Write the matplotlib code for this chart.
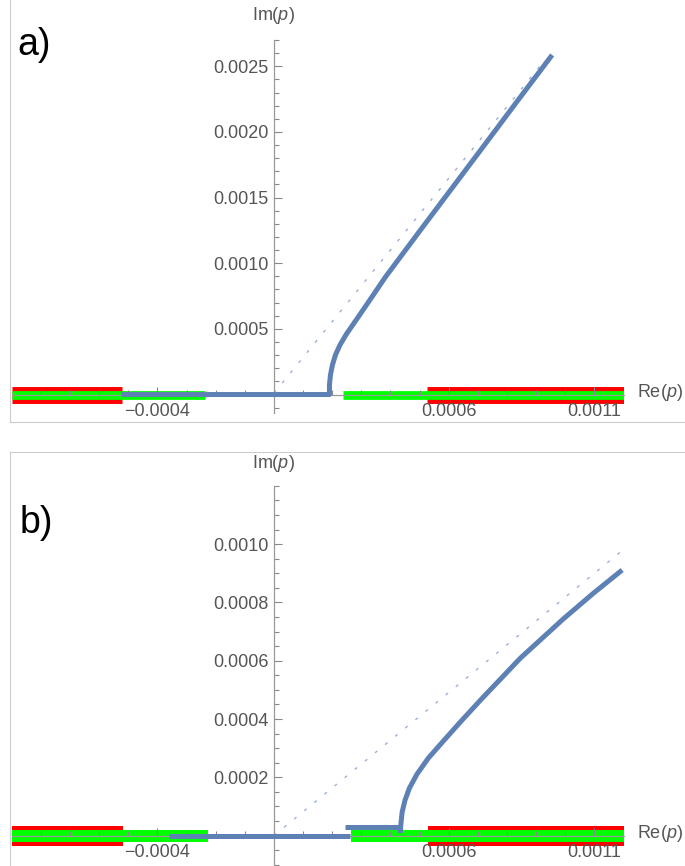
import numpy as np
import matplotlib.pyplot as plt
from matplotlib.lines import Line2D

plt.rcParams['font.family'] = ['Liberation Sans', 'DejaVu Sans']
plt.rcParams['mathtext.fontset'] = 'custom'
plt.rcParams['mathtext.it'] = 'Liberation Sans:italic'
plt.rcParams['mathtext.rm'] = 'Liberation Sans'

# datos
x_rango = (-0.0009, 0.0012)
x_ticks = [-0.0004, 0.0006, 0.0011]
x_ticklabels = ['\u22120.0004', '0.0006', '0.0011']

# panel a)
a_ylim = (-0.00014, 0.0027)
a_yticks = [0.0005, 0.0010, 0.0015, 0.0020, 0.0025]
a_rojo = [(-0.0009, -0.000523), (0.000526, 0.0012)]
a_verde = [(-0.0009, -0.000235), (0.000236, 0.0012)]
a_curva_x = [-0.000523, 0.0001905, 0.0001905, 0.0001939, 0.0002007, 0.000211, 0.0002265,
             0.0002488, 0.0002797, 0.0003174, 0.0003826, 0.0004986, 0.0006149,
             0.0007268, 0.0008425, 0.0009547]
a_curva_y = [0.0, 0.0, 0.0000724, 0.0001485, 0.0002247, 0.0003008, 0.000377,
             0.0004608, 0.0005598, 0.0006816, 0.0008949, 0.00124, 0.001583,
             0.001913, 0.002256, 0.002586]
a_punteada_x = [0.0, 0.00092]
a_punteada_y = [0.00001, 0.00252]

# panel b)
b_ylim = (-0.0001, 0.0012)
b_yticks = [0.0002, 0.0004, 0.0006, 0.0008, 0.0010]
b_rojo = [(-0.0009, -0.000517), (0.000527, 0.0012)]
b_verde = [(-0.0009, -0.000227), (0.000263, 0.0012)]
b_linea_x = [-0.000359, 0.00026]
b_linea_y = [0.0, 0.0]
b_tramo_x = [0.000243, 0.000434]
b_tramo_y = [0.000031, 0.000031]
b_curva_x = [0.000434, 0.000435, 0.00044, 0.00045, 0.000465, 0.000491, 0.00053, 0.000582,
             0.00064, 0.000709, 0.000846, 0.000995, 0.001097, 0.001195]
b_curva_y = [0.0000089, 0.0000329, 0.000081, 0.000122, 0.000163, 0.000211, 0.000266,
             0.000325, 0.00039, 0.000465, 0.000609, 0.000745, 0.000832, 0.000911]
b_punteada_x = [0.0, 0.0012]
b_punteada_y = [0.0, 0.000982]

AZUL = '#5E81B5'
GRIS = '#555555'
W, H = 685, 866


def rect(izq, der, arriba, abajo):
    return [izq / W, (H - abajo) / H, (der - izq) / W, (abajo - arriba) / H]


def preparar_ejes(ax, ylim, yticks, menor_y):
    ax.set_xlim(*x_rango)
    ax.set_ylim(*ylim)
    ax.patch.set_alpha(0)
    for lado in ['top', 'right']:
        ax.spines[lado].set_visible(False)
    for lado in ['left', 'bottom']:
        ax.spines[lado].set_position(('data', 0))
        ax.spines[lado].set_color('#999999')
        ax.spines[lado].set_linewidth(0.9)
        ax.spines[lado].set_zorder(2.5)
    ax.set_xticks(x_ticks)
    ax.set_xticklabels(x_ticklabels)
    ax.set_xticks(np.arange(-8, 12) * 0.0001, minor=True)
    ax.set_yticks(yticks)
    ax.set_yticklabels([f'{v:.4f}' for v in yticks])
    ax.set_yticks(np.arange(-2, 30) * menor_y, minor=True)
    ax.set_ylim(*ylim)
    ax.tick_params(which='both', direction='in', color='#888888', width=0.8,
                   labelcolor=GRIS, labelsize=13)
    ax.tick_params(which='major', length=6)
    ax.tick_params(which='minor', length=3.5)
    ax.tick_params(axis='x', pad=6)
    ax.tick_params(axis='y', pad=4)


def bandas(ax, rojo, verde, lw_rojo, lw_verde):
    for a, b in rojo:
        ax.plot([a, b], [0, 0], color='#FF0000', lw=lw_rojo, solid_capstyle='butt', zorder=1)
    for a, b in verde:
        ax.plot([a, b], [0, 0], color='#00FF00', lw=lw_verde, solid_capstyle='butt', zorder=1.1)


fig = plt.figure(figsize=(6.85, 8.66), dpi=100)

# panel a)
ax1 = fig.add_axes(rect(11.7, 623.6, 40.0, 412.9))
preparar_ejes(ax1, a_ylim, a_yticks, 0.0001)
bandas(ax1, a_rojo, a_verde, 12.2, 6.3)
ax1.plot(a_punteada_x, a_punteada_y, color='#9AB0D6', lw=1.0, dashes=(2.2, 7.2), zorder=2)
ax1.plot(a_curva_x, a_curva_y, color=AZUL, lw=3.6, solid_joinstyle='round',
         solid_capstyle='butt', zorder=3)
fig.text(273.5 / W, 1 - 16 / H, 'Im($p$)', ha='center', va='center', fontsize=13, color=GRIS)
fig.text(637 / W, 1 - 392 / H, 'Re($p$)', ha='left', va='center', fontsize=13, color=GRIS)
fig.text(34 / W, 1 - 45 / H, 'a)', ha='center', va='center', fontsize=27, color='black')

# panel b)
ax2 = fig.add_axes(rect(11.7, 623.6, 485.8, 864.75))
preparar_ejes(ax2, b_ylim, b_yticks, 0.00005)
bandas(ax2, b_rojo, b_verde, 14.4, 8.6)
ax2.plot(b_punteada_x, b_punteada_y, color='#9AB0D6', lw=1.0, dashes=(2.2, 7.2), zorder=2)
ax2.plot(b_linea_x, b_linea_y, color=AZUL, lw=3.6, solid_capstyle='butt', zorder=3)
ax2.plot(b_tramo_x, b_tramo_y, color=AZUL, lw=3.6, solid_capstyle='butt', zorder=3)
ax2.plot(b_curva_x, b_curva_y, color=AZUL, lw=3.6, solid_joinstyle='round',
         solid_capstyle='butt', zorder=3)
fig.text(273.5 / W, 1 - 464 / H, 'Im($p$)', ha='center', va='center', fontsize=13, color=GRIS)
fig.text(637 / W, 1 - 833 / H, 'Re($p$)', ha='left', va='center', fontsize=13, color=GRIS)
fig.text(36 / W, 1 - 523 / H, 'b)', ha='center', va='center', fontsize=27, color='black')

# bordes de celda
borde = '#cccccc'
fig.add_artist(Line2D([10 / W, 10 / W], [1, 1 - 422 / H], color=borde, lw=0.8))
fig.add_artist(Line2D([10 / W, 1], [1 - 422 / H, 1 - 422 / H], color=borde, lw=0.8))
fig.add_artist(Line2D([10 / W, 1], [1 - 452 / H, 1 - 452 / H], color=borde, lw=0.8))
fig.add_artist(Line2D([10 / W, 10 / W], [1 - 452 / H, 0], color=borde, lw=0.8))

fig.savefig('out.png', dpi=100)
